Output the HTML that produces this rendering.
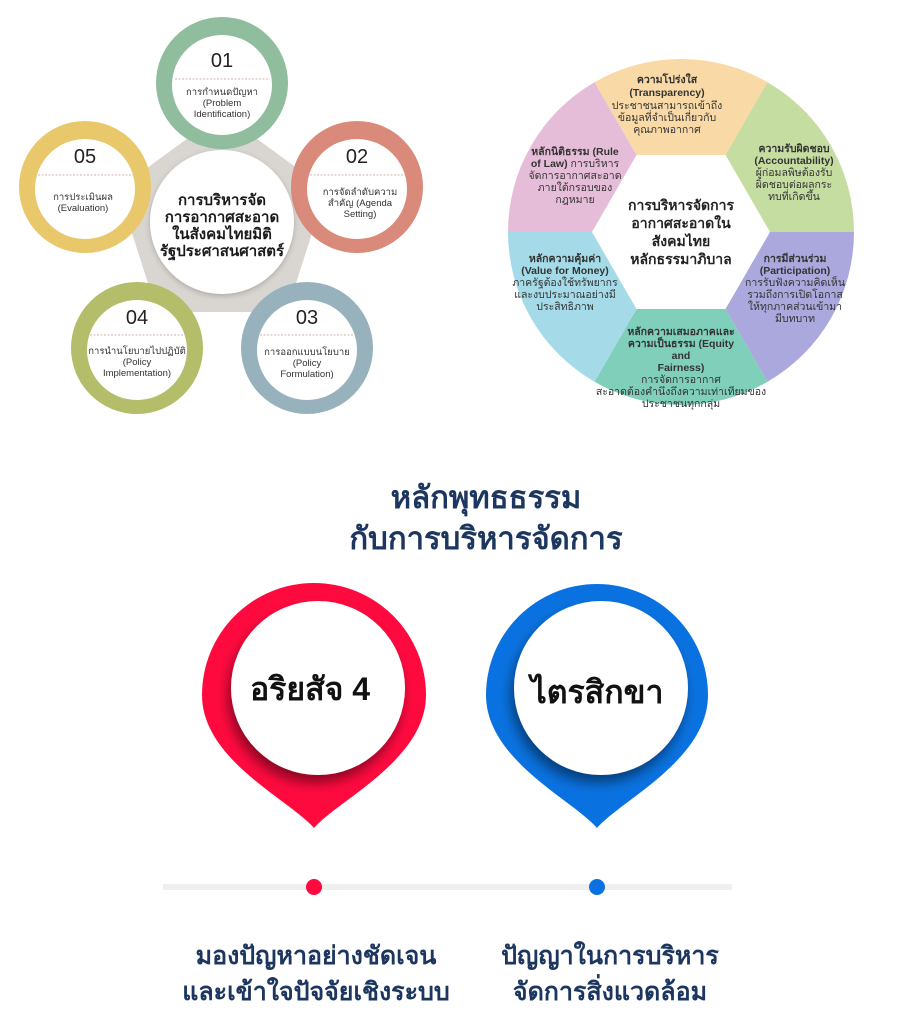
<!DOCTYPE html>
<html><head><meta charset="utf-8"><style>
html,body{margin:0;padding:0;background:#fff;}
svg{display:block;}
text{font-family:"Liberation Sans","Noto Sans CJK SC",sans-serif;}
</style></head><body>
<svg width="900" height="1014" viewBox="0 0 900 1014" xmlns="http://www.w3.org/2000/svg">
<defs>
<filter id="sh" x="-30%" y="-30%" width="160%" height="160%"><feDropShadow dx="-3" dy="8" stdDeviation="6" flood-color="#000" flood-opacity="0.45"/></filter>
<filter id="sh2" x="-30%" y="-30%" width="160%" height="160%"><feDropShadow dx="0" dy="2" stdDeviation="3" flood-color="#000" flood-opacity="0.2"/></filter>
</defs>

<!-- LEFT DIAGRAM -->
<polygon points="222,128 312,194 278,300 166,300 132,194" fill="#d9d5d0" stroke="#d9d5d0" stroke-width="24" stroke-linejoin="round"/>
<g>
<circle cx="222" cy="83" r="66" fill="#8fbd9d"/><circle cx="222" cy="85" r="50" fill="#fff"/>
<circle cx="357" cy="187" r="66" fill="#d98a7a"/><circle cx="357" cy="189" r="50" fill="#fff"/>
<circle cx="85" cy="187" r="66" fill="#e8c86a"/><circle cx="85" cy="189" r="50" fill="#fff"/>
<circle cx="137" cy="348" r="66" fill="#b3bd6a"/><circle cx="137" cy="350" r="50" fill="#fff"/>
<circle cx="307" cy="348" r="66" fill="#97b2bd"/><circle cx="307" cy="350" r="50" fill="#fff"/>
</g>
<circle cx="222" cy="222" r="72" fill="#fff" filter="url(#sh2)"/>
<g text-anchor="middle" fill="#222" font-size="20">
<text x="222" y="67">01</text><text x="357" y="163">02</text><text x="85" y="163">05</text><text x="137" y="324">04</text><text x="307" y="324">03</text>
</g>
<g stroke="#c99" stroke-width="0.8" stroke-dasharray="2,1.5">
<line x1="175" y1="79" x2="270" y2="79"/><line x1="310" y1="175" x2="405" y2="175"/><line x1="38" y1="175" x2="133" y2="175"/><line x1="90" y1="335" x2="185" y2="335"/><line x1="260" y1="335" x2="355" y2="335"/>
</g>
<g text-anchor="middle" fill="#333" font-size="9.5">
<text x="222" y="95">การกำหนดปัญหา</text><text x="222" y="106">(Problem</text><text x="222" y="117">Identification)</text>
<text x="360" y="195">การจัดลำดับความ</text><text x="360" y="206">สำคัญ (Agenda</text><text x="360" y="217">Setting)</text>
<text x="83" y="200">การประเมินผล</text><text x="83" y="211">(Evaluation)</text>
<text x="137" y="354">การนำนโยบายไปปฏิบัติ</text><text x="137" y="365">(Policy</text><text x="137" y="376">Implementation)</text>
<text x="307" y="355">การออกแบบนโยบาย</text><text x="307" y="366">(Policy</text><text x="307" y="377">Formulation)</text>
</g>
<g text-anchor="middle" fill="#1a1a1a" font-size="15" font-weight="bold">
<text x="222" y="205">การบริหารจัด</text><text x="222" y="222">การอากาศสะอาด</text><text x="222" y="239">ในสังคมไทยมิติ</text><text x="222" y="256">รัฐประศาสนศาสตร์</text>
</g>

<!-- RIGHT WHEEL -->
<g>
<path d="M681,232 L594.5,82.2 A173,173 0 0 1 767.5,82.2 Z" fill="#f9d9a6"/>
<path d="M681,232 L767.5,82.2 A173,173 0 0 1 854,232 Z" fill="#c6dda2"/>
<path d="M681,232 L854,232 A173,173 0 0 1 767.5,381.8 Z" fill="#aaa8dc"/>
<path d="M681,232 L767.5,381.8 A173,173 0 0 1 594.5,381.8 Z" fill="#7fcfbb"/>
<path d="M681,232 L594.5,381.8 A173,173 0 0 1 508,232 Z" fill="#a5dbe8"/>
<path d="M681,232 L508,232 A173,173 0 0 1 594.5,82.2 Z" fill="#e6bdd8"/>
<polygon points="592,232 636.5,155 725.5,155 770,232 725.5,309 636.5,309" fill="#fff"/>
</g>
<g text-anchor="middle" fill="#333" font-size="10.5">
<text x="667" y="83" font-weight="bold">ความโปร่งใส</text><text x="667" y="96" font-weight="bold">(Transparency)</text><text x="667" y="109">ประชาชนสามารถเข้าถึง</text><text x="667" y="121">ข้อมูลที่จำเป็นเกี่ยวกับ</text><text x="667" y="133">คุณภาพอากาศ</text>
<text x="794" y="152" font-weight="bold">ความรับผิดชอบ</text><text x="794" y="164" font-weight="bold">(Accountability)</text><text x="794" y="176">ผู้ก่อมลพิษต้องรับ</text><text x="794" y="188">ผิดชอบต่อผลกระ</text><text x="794" y="200">ทบที่เกิดขึ้น</text>
<text x="575" y="155"><tspan font-weight="bold">หลักนิติธรรม (Rule</tspan></text><text x="575" y="167"><tspan font-weight="bold">of Law)</tspan> การบริหาร</text><text x="575" y="179">จัดการอากาศสะอาด</text><text x="575" y="191">ภายใต้กรอบของ</text><text x="575" y="203">กฎหมาย</text>
<text x="565" y="262" font-weight="bold">หลักความคุ้มค่า</text><text x="565" y="274" font-weight="bold">(Value for Money)</text><text x="565" y="286">ภาครัฐต้องใช้ทรัพยากร</text><text x="565" y="298">และงบประมาณอย่างมี</text><text x="565" y="310">ประสิทธิภาพ</text>
<text x="795" y="262" font-weight="bold">การมีส่วนร่วม</text><text x="795" y="274" font-weight="bold">(Participation)</text><text x="795" y="286">การรับฟังความคิดเห็น</text><text x="795" y="298">รวมถึงการเปิดโอกาส</text><text x="795" y="310">ให้ทุกภาคส่วนเข้ามา</text><text x="795" y="322">มีบทบาท</text>
<text x="681" y="335" font-weight="bold">หลักความเสมอภาคและ</text><text x="681" y="347" font-weight="bold">ความเป็นธรรม (Equity</text><text x="681" y="359" font-weight="bold">and</text><text x="681" y="371" font-weight="bold">Fairness)</text><text x="681" y="383">การจัดการอากาศ</text><text x="681" y="395">สะอาดต้องคำนึงถึงความเท่าเทียมของ</text><text x="681" y="407">ประชาชนทุกกลุ่ม</text>
</g>
<g text-anchor="middle" fill="#222" font-size="14" font-weight="bold">
<text x="681" y="210">การบริหารจัดการ</text><text x="681" y="228">อากาศสะอาดใน</text><text x="681" y="246">สังคมไทย</text><text x="681" y="264">หลักธรรมาภิบาล</text>
</g>

<!-- BOTTOM -->
<g text-anchor="middle" fill="#1c365f" font-size="31" font-weight="bold">
<text x="486" y="508">หลักพุทธธรรม</text><text x="486" y="549">กับการบริหารจัดการ</text>
</g>
<path d="M314,828 C290,800 202,760 202,695 A112,112 0 1 1 426,695 C426,760 338,800 314,828 Z" fill="#ff0a3f"/>
<circle cx="318" cy="688" r="87" fill="#fff" filter="url(#sh)"/>
<path d="M597,828 C573,800 486,760 486,695 A111,111 0 1 1 708,695 C708,760 621,800 597,828 Z" fill="#0a72e0"/>
<circle cx="601" cy="688" r="87" fill="#fff" filter="url(#sh)"/>
<g text-anchor="middle" fill="#111" font-size="32" font-weight="bold">
<text x="310" y="700">อริยสัจ 4</text><text x="597" y="703">ไตรสิกขา</text>
</g>
<rect x="163" y="884" width="569" height="6" fill="#efefef"/>
<circle cx="314" cy="887" r="8" fill="#ff0a3f"/>
<circle cx="597" cy="887" r="8" fill="#0a72e0"/>
<g text-anchor="middle" fill="#1c365f" font-size="25" font-weight="bold">
<text x="316" y="964">มองปัญหาอย่างชัดเจน</text><text x="316" y="1000">และเข้าใจปัจจัยเชิงระบบ</text>
<text x="610" y="964">ปัญญาในการบริหาร</text><text x="610" y="1000">จัดการสิ่งแวดล้อม</text>
</g>
</svg>
</body></html>
